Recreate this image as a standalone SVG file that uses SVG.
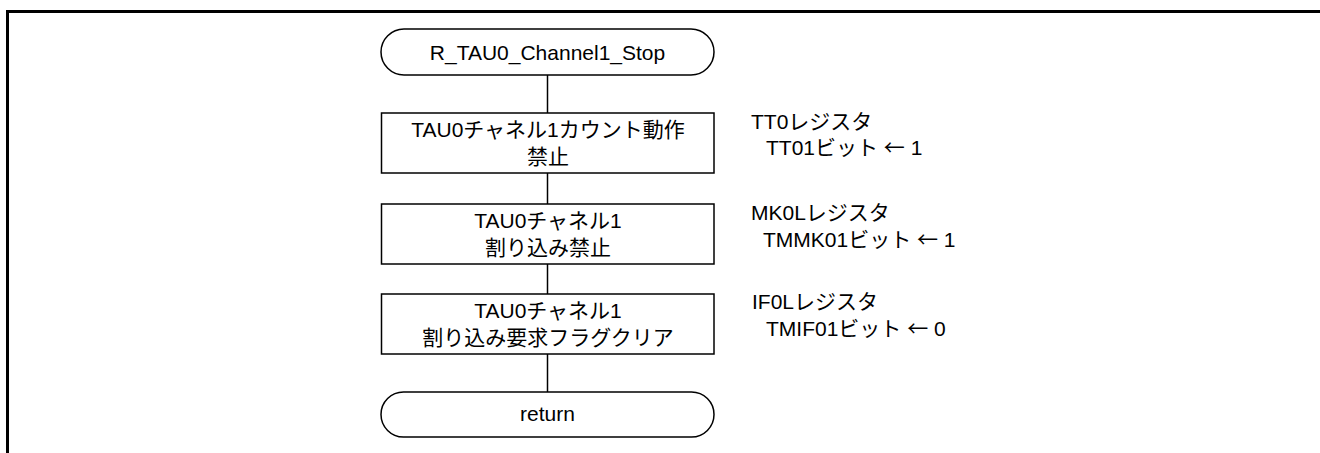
<svg xmlns="http://www.w3.org/2000/svg" width="1320" height="453" viewBox="0 0 1320 453">
<style>
.shape{fill:#fff;stroke:#000;stroke-width:1.5}
.conn{stroke:#000;stroke-width:1.5;fill:none}
.frame{stroke:#000;stroke-width:3;fill:none}
text{font-family:"Liberation Sans","Noto Sans CJK JP",sans-serif;font-size:21px;fill:#000}
.c{text-anchor:middle}
.ar{font-family:"Noto Sans CJK JP",sans-serif}
</style>
<rect width="1320" height="453" fill="#fff"/>
<path class="frame" d="M7.5,453 V11.5 H1320"/>
<g id="connectors">
<line class="conn" x1="547.5" y1="75" x2="547.5" y2="113"/>
<line class="conn" x1="547.5" y1="173" x2="547.5" y2="204"/>
<line class="conn" x1="547.5" y1="264" x2="547.5" y2="294"/>
<line class="conn" x1="547.5" y1="354" x2="547.5" y2="392"/>
</g>
<g id="start">
<rect class="shape" x="381" y="29" width="333" height="46" rx="23" ry="23"/>
<text class="c" x="547.5" y="60">R_TAU0_Channel1_Stop</text>
</g>
<g id="step1">
<rect class="shape" x="381.5" y="113" width="332.5" height="60"/>
<text class="c" x="548" y="137">TAU0チャネル1カウント動作</text>
<text class="c" x="548" y="164">禁止</text>
</g>
<g id="note1">
<text x="751" y="129">TT0レジスタ</text>
<text x="766" y="155">TT01ビット <tspan class="ar">←</tspan> 1</text>
</g>
<g id="step2">
<rect class="shape" x="381.5" y="204" width="332.5" height="60"/>
<text class="c" x="548" y="228">TAU0チャネル1</text>
<text class="c" x="548" y="255">割り込み禁止</text>
</g>
<g id="note2">
<text x="751" y="220">MK0Lレジスタ</text>
<text x="763" y="247">TMMK01ビット <tspan class="ar">←</tspan> 1</text>
</g>
<g id="step3">
<rect class="shape" x="381.5" y="294" width="332.5" height="60"/>
<text class="c" x="548" y="318">TAU0チャネル1</text>
<text class="c" x="548" y="345">割り込み要求フラグクリア</text>
</g>
<g id="note3">
<text x="752" y="309">IF0Lレジスタ</text>
<text x="766" y="336">TMIF01ビット <tspan class="ar">←</tspan> 0</text>
</g>
<g id="end">
<rect class="shape" x="381" y="392" width="333" height="45" rx="22.5" ry="22.5"/>
<text class="c" x="547.5" y="421">return</text>
</g>
</svg>
